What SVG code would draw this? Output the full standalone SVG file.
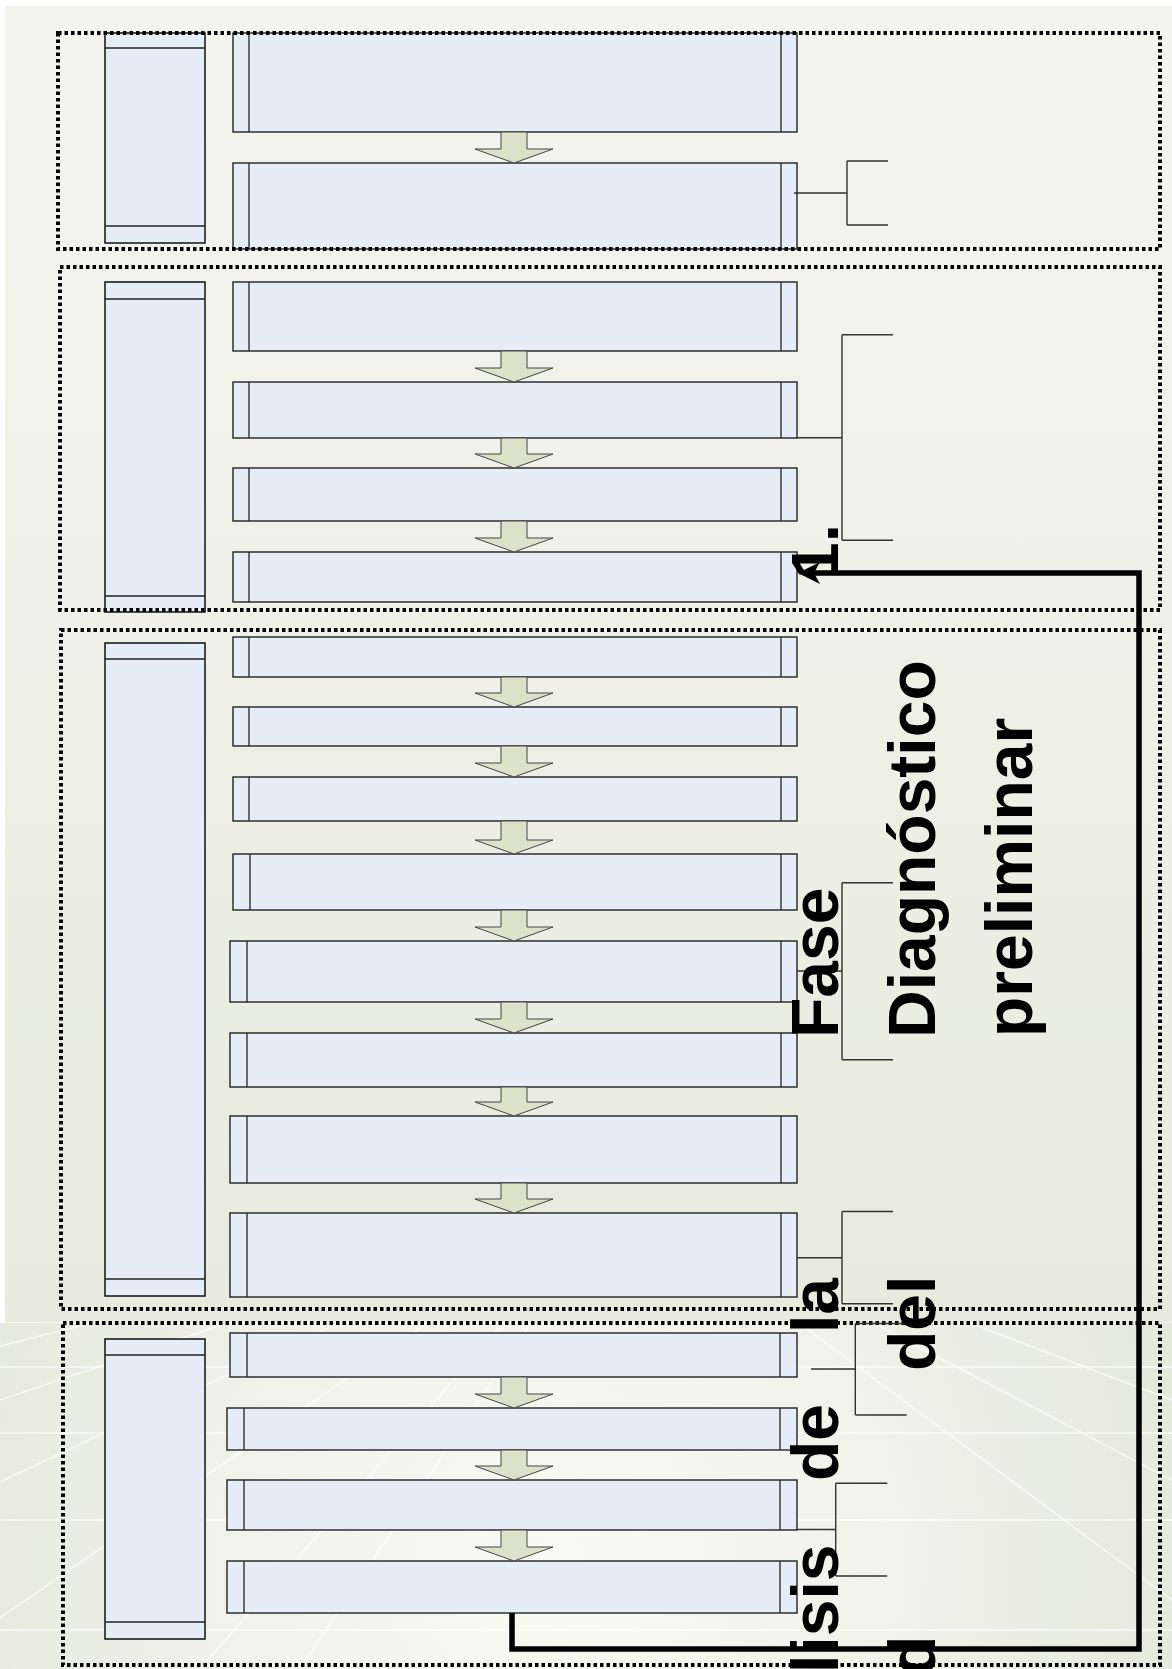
<svg xmlns="http://www.w3.org/2000/svg" width="1172" height="1669" viewBox="0 0 1172 1669">
<style>
.dot{fill:none;stroke:#000;stroke-width:4;stroke-dasharray:3.5 3}
.col{fill:#e6edf7;stroke:#111;stroke-width:1.5}
.box{fill:#e6edf7;stroke:#222;stroke-width:1.4}
.sep{stroke:#222;stroke-width:1.3}
.arr{fill:#dce2c9;stroke:#444;stroke-width:1}
.br{fill:none;stroke:#333;stroke-width:1.4}
.fb{fill:none;stroke:#000;stroke-width:5.5}
.ray{stroke:#fff;stroke-width:1.5;opacity:.75}
.t{font-family:"Liberation Sans",Arial,sans-serif;font-weight:bold;font-size:66px;fill:#000}
</style>
<defs>
<linearGradient id="gTop" x1="0" y1="0" x2="0" y2="1">
<stop offset="0" stop-color="#f3f4ee"/>
<stop offset="0.55" stop-color="#eef0e6"/>
<stop offset="1" stop-color="#e7eadc"/>
</linearGradient>
<radialGradient id="gBot" cx="560" cy="1560" r="640" gradientUnits="userSpaceOnUse">
<stop offset="0" stop-color="#fafaf6"/>
<stop offset="0.5" stop-color="#f1f2ea"/>
<stop offset="1" stop-color="#e5e9da"/>
</radialGradient>
<clipPath id="cBot"><rect x="0" y="1322" width="1172" height="347"/></clipPath>
</defs>
<rect width="1172" height="1669" fill="#ffffff"/>
<rect x="5" y="6" width="1167" height="1316" fill="url(#gTop)"/>
<rect x="0" y="1322" width="1172" height="347" fill="url(#gBot)"/>
<g clip-path="url(#cBot)">
<line class="ray" x1="0" y1="1322" x2="1172" y2="1322"/>
<line class="ray" x1="0" y1="1367" x2="1172" y2="1367"/>
<line class="ray" x1="0" y1="1433" x2="1172" y2="1433"/>
<line class="ray" x1="0" y1="1520" x2="1172" y2="1520"/>
<line class="ray" x1="0" y1="1630" x2="1172" y2="1630"/>
<line class="ray" x1="620" y1="1190" x2="0" y2="1346"/>
<line class="ray" x1="620" y1="1190" x2="0" y2="1400"/>
<line class="ray" x1="620" y1="1190" x2="0" y2="1482"/>
<line class="ray" x1="620" y1="1190" x2="0" y2="1618"/>
<line class="ray" x1="620" y1="1190" x2="300" y2="1669"/>
<line class="ray" x1="620" y1="1190" x2="200" y2="1669"/>
<line class="ray" x1="620" y1="1190" x2="1172" y2="1400"/>
<line class="ray" x1="620" y1="1190" x2="1172" y2="1480"/>
<line class="ray" x1="620" y1="1190" x2="1172" y2="1600"/>
</g>

<g id="phase1">
<g id="p1-label"><rect class="col" x="105" y="33" width="100" height="210"/><line class="sep" x1="105" y1="48" x2="205" y2="48"/><line class="sep" x1="105" y1="226" x2="205" y2="226"/></g>
<g id="p1-a"><rect class="box" x="233" y="33" width="564" height="99"/><line class="sep" x1="249" y1="33" x2="249" y2="132"/><line class="sep" x1="781" y1="33" x2="781" y2="132"/></g>
<g id="p1-b"><rect class="box" x="233" y="163" width="564" height="86"/><line class="sep" x1="249" y1="163" x2="249" y2="249"/><line class="sep" x1="781" y1="163" x2="781" y2="249"/></g>
</g>

<g id="phase2">
<g id="p2-label"><rect class="col" x="105" y="282" width="100" height="330"/><line class="sep" x1="105" y1="299" x2="205" y2="299"/><line class="sep" x1="105" y1="596" x2="205" y2="596"/></g>
<g id="p2-a"><rect class="box" x="233" y="282" width="564" height="69"/><line class="sep" x1="249" y1="282" x2="249" y2="351"/><line class="sep" x1="781" y1="282" x2="781" y2="351"/></g>
<g id="p2-b"><rect class="box" x="233" y="382" width="564" height="56"/><line class="sep" x1="249" y1="382" x2="249" y2="438"/><line class="sep" x1="781" y1="382" x2="781" y2="438"/></g>
<g id="p2-c"><rect class="box" x="233" y="468" width="564" height="53"/><line class="sep" x1="249" y1="468" x2="249" y2="521"/><line class="sep" x1="781" y1="468" x2="781" y2="521"/></g>
<g id="p2-d"><rect class="box" x="233" y="552" width="564" height="50"/><line class="sep" x1="249" y1="552" x2="249" y2="602"/><line class="sep" x1="781" y1="552" x2="781" y2="602"/></g>
</g>

<g id="phase3">
<g id="p3-label"><rect class="col" x="105" y="643" width="100" height="653"/><line class="sep" x1="105" y1="659" x2="205" y2="659"/><line class="sep" x1="105" y1="1279" x2="205" y2="1279"/></g>
<g id="p3-a"><rect class="box" x="233" y="637" width="564" height="40"/><line class="sep" x1="249" y1="637" x2="249" y2="677"/><line class="sep" x1="781" y1="637" x2="781" y2="677"/></g>
<g id="p3-b"><rect class="box" x="233" y="707" width="564" height="39"/><line class="sep" x1="249" y1="707" x2="249" y2="746"/><line class="sep" x1="781" y1="707" x2="781" y2="746"/></g>
<g id="p3-c"><rect class="box" x="233" y="777" width="564" height="44"/><line class="sep" x1="249" y1="777" x2="249" y2="821"/><line class="sep" x1="781" y1="777" x2="781" y2="821"/></g>
<g id="p3-d"><rect class="box" x="233" y="854" width="564" height="56"/><line class="sep" x1="250" y1="854" x2="250" y2="910"/><line class="sep" x1="781" y1="854" x2="781" y2="910"/></g>
<g id="p3-e"><rect class="box" x="230" y="941" width="567" height="61"/><line class="sep" x1="247" y1="941" x2="247" y2="1002"/><line class="sep" x1="781" y1="941" x2="781" y2="1002"/></g>
<g id="p3-f"><rect class="box" x="230" y="1033" width="567" height="54"/><line class="sep" x1="247" y1="1033" x2="247" y2="1087"/><line class="sep" x1="781" y1="1033" x2="781" y2="1087"/></g>
<g id="p3-g"><rect class="box" x="230" y="1116" width="567" height="67"/><line class="sep" x1="247" y1="1116" x2="247" y2="1183"/><line class="sep" x1="781" y1="1116" x2="781" y2="1183"/></g>
<g id="p3-h"><rect class="box" x="230" y="1213" width="567" height="84"/><line class="sep" x1="247" y1="1213" x2="247" y2="1297"/><line class="sep" x1="781" y1="1213" x2="781" y2="1297"/></g>
</g>

<g id="phase4">
<g id="p4-label"><rect class="col" x="105" y="1339" width="100" height="300"/><line class="sep" x1="105" y1="1355" x2="205" y2="1355"/><line class="sep" x1="105" y1="1622" x2="205" y2="1622"/></g>
<g id="p4-a"><rect class="box" x="230" y="1333" width="567" height="44"/><line class="sep" x1="247" y1="1333" x2="247" y2="1377"/><line class="sep" x1="780" y1="1333" x2="780" y2="1377"/></g>
<g id="p4-b"><rect class="box" x="227" y="1408" width="570" height="42"/><line class="sep" x1="244" y1="1408" x2="244" y2="1450"/><line class="sep" x1="780" y1="1408" x2="780" y2="1450"/></g>
<g id="p4-c"><rect class="box" x="227" y="1480" width="570" height="50"/><line class="sep" x1="244" y1="1480" x2="244" y2="1530"/><line class="sep" x1="780" y1="1480" x2="780" y2="1530"/></g>
<g id="p4-d"><rect class="box" x="227" y="1561" width="570" height="52"/><line class="sep" x1="244" y1="1561" x2="244" y2="1613"/><line class="sep" x1="780" y1="1561" x2="780" y2="1613"/></g>
</g>

<g id="frames">
<rect class="dot" x="58" y="33" width="1102" height="216"/>
<rect class="dot" x="60" y="267" width="1100" height="343"/>
<rect class="dot" x="61" y="630" width="1099" height="679"/>
<rect class="dot" x="63" y="1323" width="1097" height="342"/>
</g>

<g id="connectors">
<path class="arr" d="M501,132H527V149H553L514,163L475,149H501Z"/>
<path class="arr" d="M501,351H527V368H553L514,382L475,368H501Z"/>
<path class="arr" d="M501,438H527V454H553L514,468L475,454H501Z"/>
<path class="arr" d="M501,521H527V538H553L514,552L475,538H501Z"/>
<path class="arr" d="M501,677H527V693H553L514,707L475,693H501Z"/>
<path class="arr" d="M501,746H527V763H553L514,777L475,763H501Z"/>
<path class="arr" d="M501,821H527V840H553L514,854L475,840H501Z"/>
<path class="arr" d="M501,910H527V927H553L514,941L475,927H501Z"/>
<path class="arr" d="M501,1002H527V1019H553L514,1033L475,1019H501Z"/>
<path class="arr" d="M501,1087H527V1102H553L514,1116L475,1102H501Z"/>
<path class="arr" d="M501,1183H527V1199H553L514,1213L475,1199H501Z"/>
<path class="arr" d="M501,1377H527V1394H553L514,1408L475,1394H501Z"/>
<path class="arr" d="M501,1450H527V1466H553L514,1480L475,1466H501Z"/>
<path class="arr" d="M501,1530H527V1547H553L514,1561L475,1547H501Z"/>
<path class="br" d="M794,193H847M847,161V225M847,161H888M847,225H888"/>
<path class="br" d="M797,437.7H842M842,334.7V540.3M842,334.7H893M842,540.3H893"/>
<path class="br" d="M797,971H842M842,882.7V1059.7M842,882.7H893M842,1059.7H893"/>
<path class="br" d="M797,1257.7H842M842,1211.5V1303.7M842,1211.5H893M842,1303.7H893"/>
<path class="br" d="M811,1369H855.3M855.3,1323.5V1415M855.3,1323.5H906.7M855.3,1415H906.7"/>
<path class="br" d="M797,1529.5H835.7M835.7,1483.3V1576M835.7,1483.3H887.3M835.7,1576H887.3"/>
<path class="fb" d="M512,1613V1649H1139V573H812"/>
<polygon points="798,573 820,562 814,573 820,584" fill="#000"/>
</g>

<g id="titles">
<text class="t" transform="translate(838,1038) rotate(-90)">Fase</text>
<text class="t" transform="translate(838,579) rotate(-90)">1.</text>
<text class="t" transform="translate(935,1038) rotate(-90)">Diagnóstico</text>
<text class="t" transform="translate(1032,1037) rotate(-90)">preliminar</text>
<text class="t" transform="translate(838,1333) rotate(-90)">la</text>
<text class="t" transform="translate(838,1481) rotate(-90)">de</text>
<text class="t" transform="translate(838,1673) rotate(-90)">lisis</text>
<text class="t" transform="translate(935,1371) rotate(-90)">del</text>
<text class="t" transform="translate(935,1676) rotate(-90)">d</text>
</g>
</svg>
